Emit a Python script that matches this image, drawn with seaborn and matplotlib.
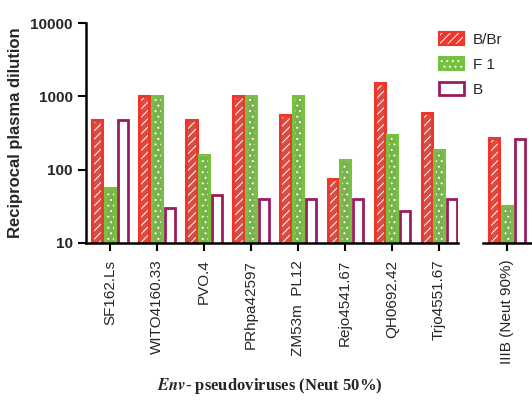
import matplotlib
matplotlib.use("Agg")
import matplotlib.pyplot as plt
from matplotlib.patches import Rectangle, Patch
from matplotlib.legend_handler import HandlerTuple
import seaborn as sns
import pandas as pd

# Neutralisation titres (reciprocal plasma dilution) per Env pseudovirus
viruses = ["SF162.Ls", "WITO4160.33", "PVO.4", "PRhpa42597",
           "ZM53m  PL12", "Rejo4541.67", "QH0692.42", "Trjo4551.67"]
bbr = [470, 1000, 470, 1000, 550, 75, 1500, 590]
f1 = [56, 1000, 158, 1000, 1000, 135, 300, 186]
b = [470, 30, 45, 40, 40, 40, 27, 40]

# Separate panel: IIIB at 90 % neutralisation
extra_virus = ["IIIB (Neut 90%)"]
extra_bbr = [270]
extra_f1 = [32]
extra_b = [265]

groups = ["B/Br", "F 1", "B"]
face = {"B/Br": "#f0362a", "F 1": "#78c13f", "B": "white"}
edge = {"B/Br": "#f0362a", "F 1": "#78c13f", "B": "#9a1d5e"}
hatch = {"B/Br": "////", "F 1": "...", "B": None}


def long_table(names, s1, s2, s3):
    rows = []
    for g, vals in zip(groups, (s1, s2, s3)):
        for n, v in zip(names, vals):
            rows.append({"virus": n, "group": g, "titre": v})
    return pd.DataFrame(rows)


main_df = long_table(viruses, bbr, f1, b)
extra_df = long_table(extra_virus, extra_bbr, extra_f1, extra_b)

sns.set_style("white")
plt.rcParams["font.family"] = ["Liberation Sans", "DejaVu Sans"]
plt.rcParams["hatch.linewidth"] = 0.7

fig = plt.figure(figsize=(5.32, 4.05), dpi=100)
ax = fig.add_axes([0.1617, 0.40, 0.699, 0.543])
ax2 = fig.add_axes([0.908, 0.40, 0.098, 0.543])


def draw(axis, df):
    sns.barplot(data=df, x="virus", y="titre", hue="group", hue_order=groups,
                palette=face, width=0.8, gap=0.2, ax=axis, legend=False,
                edgecolor="white", linewidth=0)
    for cont, g in zip(axis.containers, groups):
        for p in cont:
            if g == "B":
                p.set_facecolor("white")
                p.set_edgecolor(edge[g])
                p.set_linewidth(2.0)
            else:
                p.set_hatch(hatch[g])
                p.set_edgecolor("white")
                outline = Rectangle(p.get_xy(), p.get_width(), p.get_height(),
                                    fill=False, edgecolor=edge[g], lw=2.2,
                                    zorder=p.get_zorder() + 0.1)
                axis.add_patch(outline)
    axis.set_yscale("log")
    axis.set_ylim(10, 10000)
    axis.set_xlabel("")
    axis.set_ylabel("")


draw(ax, main_df)
draw(ax2, extra_df)

ax.set_xlim(-0.51, 7.4)
ax2.set_xlim(-0.51, 0.6)

for a in (ax, ax2):
    for s in ("top", "right"):
        a.spines[s].set_visible(False)
    a.spines["bottom"].set_linewidth(1.8)
    a.spines["bottom"].set_color("black")
    a.tick_params(axis="x", bottom=True, length=6, width=1.5, pad=6,
                  labelsize=11, labelrotation=90, color="black")
    a.yaxis.set_minor_locator(matplotlib.ticker.NullLocator())

ax.spines["left"].set_linewidth(1.8)
ax.spines["left"].set_color("black")
ax.set_yticks([10, 100, 1000, 10000])
ax.set_yticklabels(["10", "100", "1000", "10000"], fontweight="bold")
ax.tick_params(axis="y", left=True, length=6, width=1.5, labelsize=11,
               color="black")

ax2.spines["left"].set_visible(False)
ax2.set_yticks([])

for lab in ax.get_xticklabels() + ax2.get_xticklabels():
    lab.set_verticalalignment("top")

ax.set_ylabel("Reciprocal plasma dilution", fontsize=12, fontweight="bold",
              labelpad=5)

fig.text(0.507, 0.048, r"$\mathbfit{Env}$- pseudoviruses (Neut 50%)",
         ha="center", va="center", fontsize=12, fontweight="bold",
         family="Liberation Serif", math_fontfamily="stix")

handles = []
for g in groups:
    if g == "B":
        handles.append(Patch(facecolor="white", edgecolor=edge[g], lw=2.0))
    else:
        handles.append((Patch(facecolor=face[g], edgecolor="white",
                              hatch=hatch[g], lw=0),
                        Patch(fill=False, edgecolor=edge[g], lw=1.5)))
fig.legend(handles, groups, loc="upper left",
           bbox_to_anchor=(0.80, 0.955), frameon=False, fontsize=11,
           handlelength=1.6, handleheight=0.9, labelspacing=0.68,
           handletextpad=0.6,
           handler_map={tuple: HandlerTuple(ndivide=1, pad=0)})

fig.savefig("out.png", dpi=100)
